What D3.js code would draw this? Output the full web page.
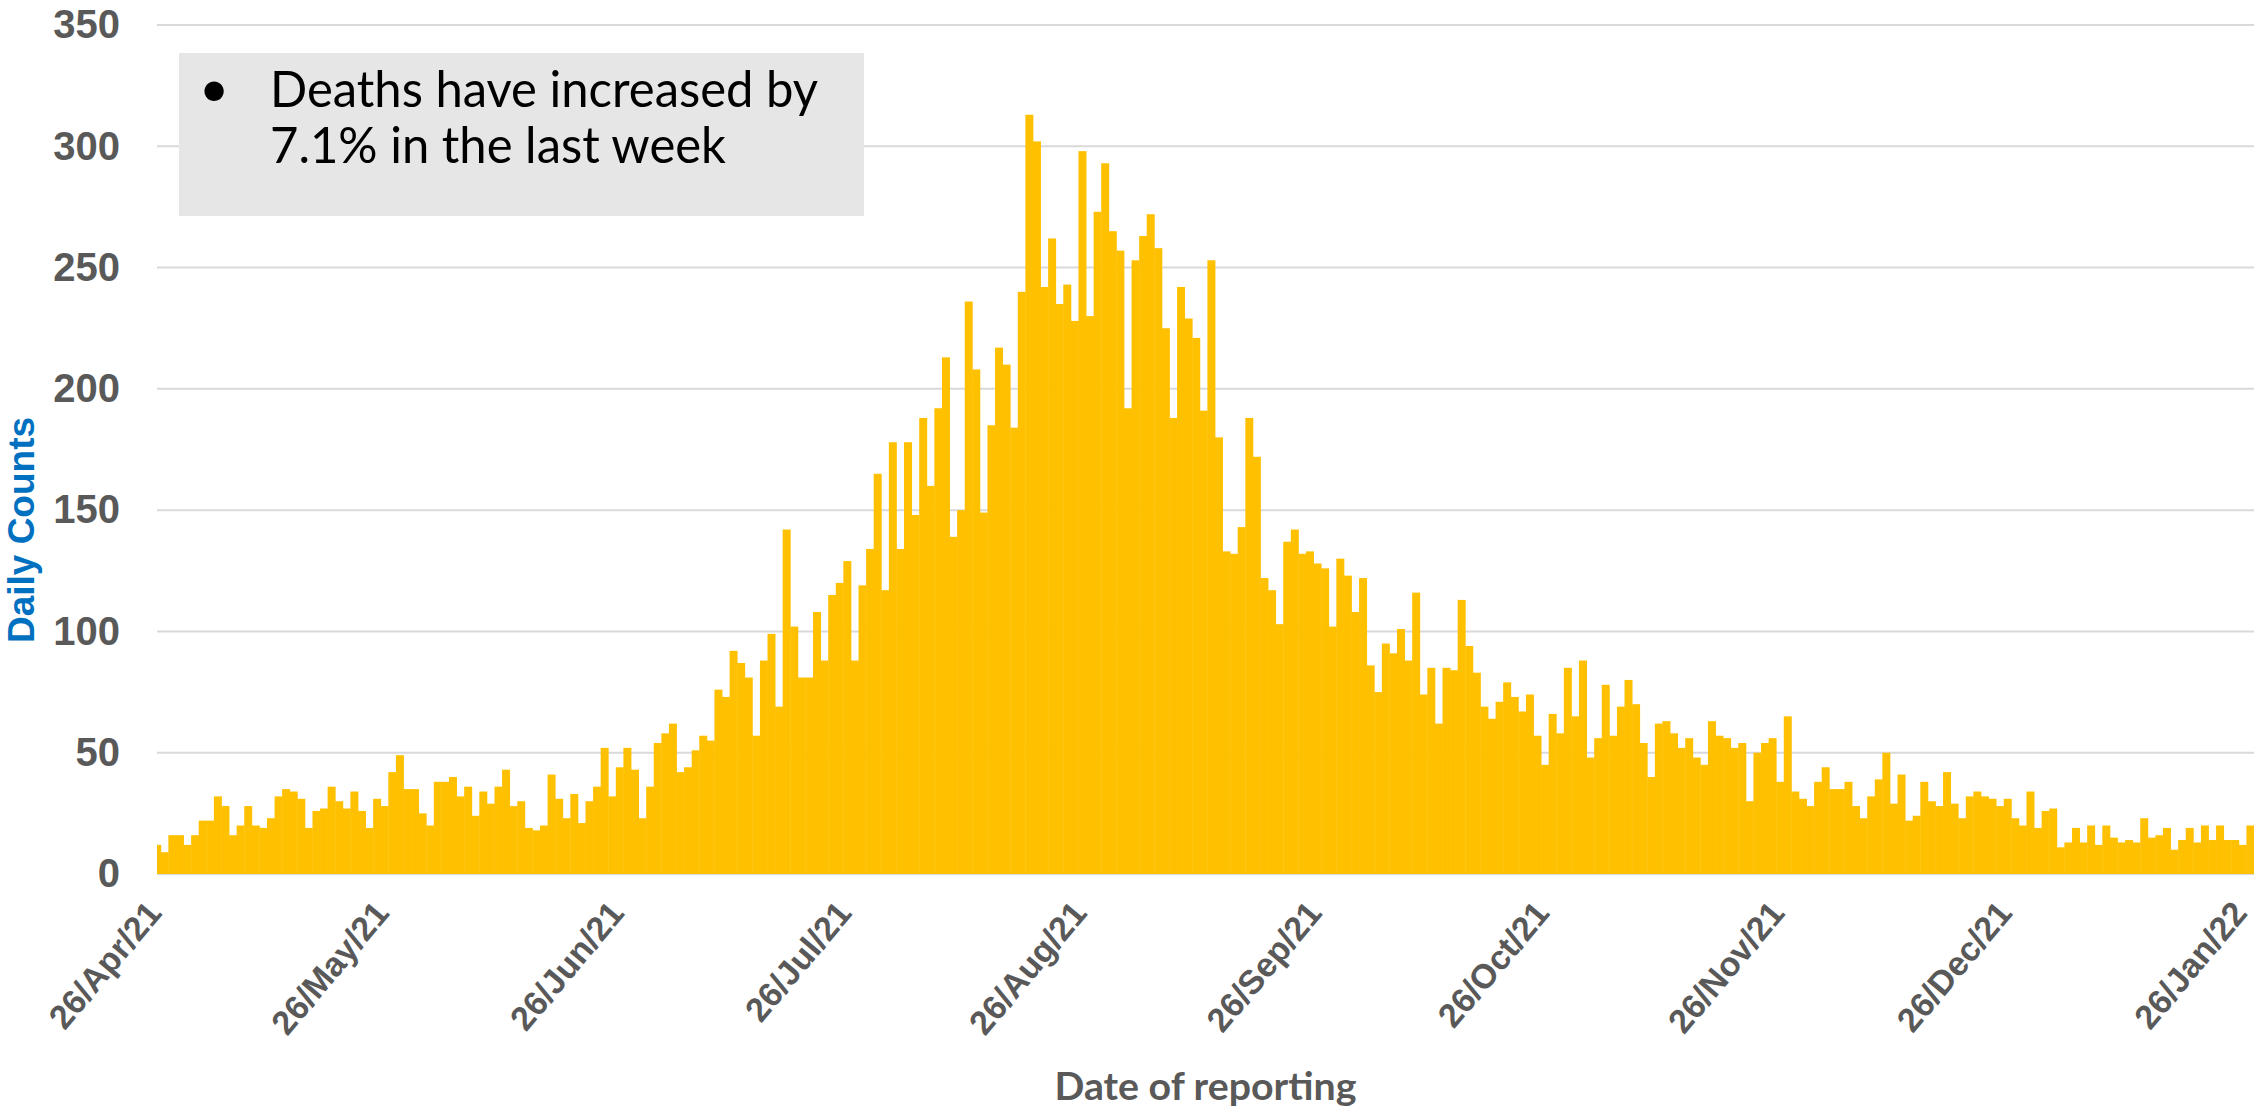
<!DOCTYPE html>
<html>
<head>
<meta charset="utf-8">
<script src="https://cdn.jsdelivr.net/npm/d3@7"></script>
<style>
  body { margin: 0; background: #fff; }
  svg { display: block; }
</style>
</head>
<body>
<svg width="2254" height="1110"></svg>
<script>
// daily deaths by date of reporting, first bar is 25/Apr/21 (half cut off by the axis start)
var firstDay = "2021-04-25";
var dailyCounts = [
  12, 9, 16, 16, 12, 16, 22, 22, 32, 28, 16, 20, 28, 20, 19, 23, 32, 35, 34, 31,
  19, 26, 27, 36, 30, 27, 34, 26, 19, 31, 28, 42, 49, 35,
  35, 25, 20, 38, 38, 40, 32, 36, 24, 34, 29, 36, 43, 28, 30, 19, 18, 20, 41, 31,
  23, 33, 21, 30, 36, 52, 32, 44, 52, 43, 23, 36, 54, 58, 62, 42, 44,
  51, 57, 55, 76, 73, 92, 87, 81, 57, 88, 99, 69, 142, 102, 81, 81, 108, 88, 115, 120,
  129, 88, 119, 134, 165, 117, 178, 134, 178, 148, 188, 160, 192, 213, 139, 150,
  236, 208, 149, 185, 217, 210, 184, 240, 313, 302, 242, 262, 235, 243, 228, 298, 230, 273, 293, 265,
  257, 192, 253, 263, 272, 258, 225, 188, 242, 229, 221, 191, 253, 180, 133,
  132, 143, 188, 172, 122, 117, 103, 137, 142, 132, 133, 128, 126, 102, 130, 123, 108, 122, 86, 75,
  95, 91, 101, 88, 116, 74, 85, 62, 85, 84, 113, 94, 83, 69, 64, 71,
  79, 73, 67, 74, 57, 45, 66, 58, 85, 65, 88, 48, 56, 78, 57, 69, 80, 70, 54, 40,
  62, 63, 58, 52, 56, 48, 45, 63, 57, 56, 52, 54, 30, 50, 54, 56,
  38, 65, 34, 31, 28, 38, 44, 35, 35, 38, 28, 23, 32, 39, 50, 29, 41, 22, 24, 38,
  30, 28, 42, 29, 23, 32, 34, 32, 31, 28, 31, 23, 20, 34, 19,
  26, 27, 11, 13, 19, 13, 20, 12, 20, 15, 13, 14, 13, 23, 15, 16, 19, 10, 14, 19,
  13, 20, 14, 20, 14, 14, 12, 20
];
var tickDays = ["2021-04-26", "2021-05-26", "2021-06-26", "2021-07-26", "2021-08-26",
  "2021-09-26", "2021-10-26", "2021-11-26", "2021-12-26", "2022-01-26"];
var tickLabels = ["26/Apr/21", "26/May/21", "26/Jun/21", "26/Jul/21", "26/Aug/21",
  "26/Sep/21", "26/Oct/21", "26/Nov/21", "26/Dec/21", "26/Jan/22"];
var yTicks = [0, 50, 100, 150, 200, 250, 300, 350];
var noteLines = ["Deaths have increased by", "7.1% in the last week"];

var svg = d3.select("svg");
// note: "top" is taken by window.top, so plot* names
var plotLeft = 157, plotRight = 2254, plotTop = 25, plotBottom = 874;
var parseDay = d3.timeParse("%Y-%m-%d");
var start = parseDay(firstDay);

var days = dailyCounts.map(function(v, i) { return d3.timeDay.offset(start, i); });
var lastDay = days[days.length - 1];

// axis starts half way the first day (like the excel export)
var x = d3.scaleTime()
    .domain([d3.timeHour.offset(start, 12), d3.timeDay.offset(lastDay, 1)])
    .range([plotLeft, plotRight]);
var y = d3.scaleLinear().domain([0, 350]).range([plotBottom, plotTop]);

svg.append("defs").append("clipPath").attr("id", "plotclip")
  .append("rect")
    .attr("x", plotLeft).attr("y", 0)
    .attr("width", plotRight - plotLeft).attr("height", plotBottom + 2);

// gridlines
svg.append("g")
    .attr("class", "grid")
  .selectAll("line")
  .data(yTicks)
  .enter().append("line")
    .attr("x1", plotLeft).attr("x2", plotRight)
    .attr("y1", function(d) { return y(d); })
    .attr("y2", function(d) { return y(d); })
    .attr("stroke", "#d9d9d9")
    .attr("stroke-width", 2);

// bars
svg.append("g")
    .attr("clip-path", "url(#plotclip)")
  .selectAll("rect")
  .data(dailyCounts)
  .enter().append("rect")
    .attr("x", function(d, i) { return x(days[i]); })
    .attr("width", function(d, i) { return x(d3.timeDay.offset(days[i], 1)) - x(days[i]) + 0.4; })
    .attr("y", function(d) { return y(d); })
    .attr("height", function(d) { return y(0) - y(d); })
    .attr("fill", "#ffc000");

// y axis labels
var yAxis = d3.axisLeft(y).tickValues(yTicks).tickSize(0).tickPadding(37);
svg.append("g")
    .attr("transform", "translate(" + plotLeft + ",0)")
    .call(yAxis)
    .call(function(g) { g.select(".domain").remove(); })
  .selectAll("text")
    .attr("font-family", "'Liberation Sans', Arial, sans-serif")
    .attr("font-weight", "bold")
    .attr("font-size", 40)
    .attr("fill", "#595959");

// x axis labels, rotated
var xAxis = d3.axisBottom(x)
    .tickValues(tickDays.map(function(s) { return d3.timeHour.offset(parseDay(s), 12); }))
    .tickFormat(function(d, i) { return tickLabels[i]; })
    .tickSize(0);
svg.append("g")
    .attr("transform", "translate(0," + plotBottom + ")")
    .call(xAxis)
    .call(function(g) { g.select(".domain").remove(); })
  .selectAll("text")
    .attr("font-family", "'Liberation Sans', Arial, sans-serif")
    .attr("font-weight", "bold")
    .attr("font-size", 34)
    .attr("fill", "#595959")
    .attr("text-anchor", "end")
    .attr("y", 0).attr("dy", 0)
    .attr("transform", "translate(-2,40) rotate(-50)");

// axis titles
svg.append("text")
    .attr("transform", "translate(34,530) rotate(-90)")
    .attr("text-anchor", "middle")
    .attr("font-family", "'Liberation Sans', Arial, sans-serif")
    .attr("font-weight", "bold")
    .attr("font-size", 37)
    .attr("fill", "#0070c0")
    .text("Daily Counts");

svg.append("text")
    .attr("x", (plotLeft + plotRight) / 2)
    .attr("y", 1100)
    .attr("text-anchor", "middle")
    .attr("font-family", "Lato, sans-serif")
    .attr("font-weight", "bold")
    .attr("font-size", 39)
    .attr("textLength", 302)
    .attr("lengthAdjust", "spacingAndGlyphs")
    .attr("fill", "#595959")
    .text("Date of reporting");

// note box
var note = svg.append("g");
note.append("rect")
    .attr("x", 179).attr("y", 53)
    .attr("width", 685).attr("height", 163)
    .attr("fill", "#e7e6e6");
note.append("text")
    .attr("x", 199).attr("y", 107)
    .attr("font-family", "Lato, sans-serif")
    .attr("font-size", 52)
    .attr("fill", "#000")
    .text("\u2022");
var noteWidths = [548, 456];
note.selectAll("text.line")
  .data(noteLines)
  .enter().append("text")
    .attr("class", "line")
    .attr("x", 270)
    .attr("y", function(d, i) { return 107 + i * 56; })
    .attr("font-family", "Lato, sans-serif")
    .attr("font-size", 50)
    .attr("textLength", function(d, i) { return noteWidths[i]; })
    .attr("lengthAdjust", "spacingAndGlyphs")
    .attr("fill", "#000")
    .text(function(d) { return d; });
</script>
</body>
</html>
